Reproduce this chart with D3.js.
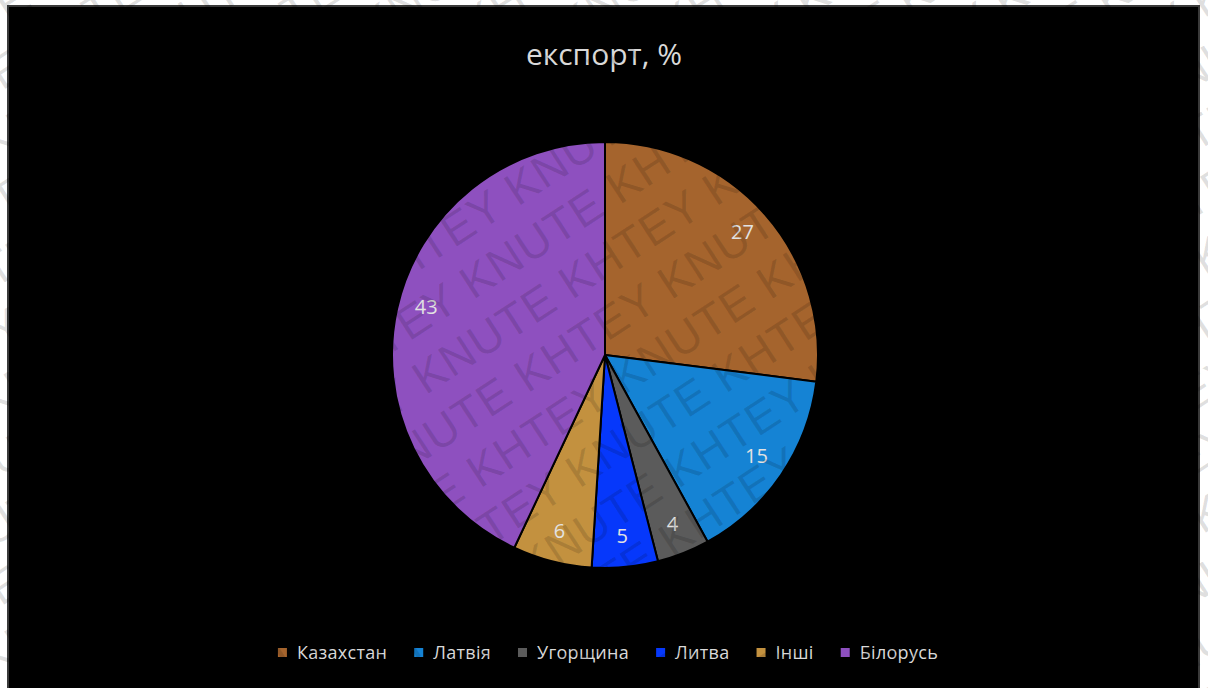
<!DOCTYPE html>
<html lang="uk">
<head>
<meta charset="utf-8">
<script src="https://cdn.jsdelivr.net/npm/d3@7"></script>
<style>
  html, body { margin: 0; padding: 0; background: #ffffff; }
  svg { display: block; }
</style>
</head>
<body>
<svg id="chart" width="1208" height="688"></svg>
<script>
// Export structure by country, %
const countries = ["Казахстан", "Латвія", "Угорщина", "Литва", "Інші", "Білорусь"];
const shares = [27, 15, 4, 5, 6, 43];
const sliceColors = ["#a5642d", "#1583d4", "#5b5b5b", "#0638fb", "#c3913f", "#8e50bf"];
const titleText = "експорт, %";
const watermarkWords = ["KNUTE", "KHTEY"];

const W = 1208, H = 688;
const svg = d3.select("#chart");

// dark chart area with a thin grey frame
svg.append("rect")
  .attr("x", 8).attr("y", 6).attr("width", 1191).attr("height", 690)
  .attr("fill", "#000").attr("stroke", "#3a3a3a").attr("stroke-width", 2);

// title
svg.append("text")
  .attr("x", 604).attr("y", 65)
  .attr("text-anchor", "middle")
  .attr("font-family", "'Open Sans', sans-serif")
  .attr("font-size", 30)
  .attr("fill", "#d9d9d9")
  .text(titleText);

// pie
const cx = 605, cy = 355, R = 213;
const data = countries.map((c, i) => ({ name: c, value: shares[i], color: sliceColors[i] }));
const pie = d3.pie().value(d => d.value).sort(null);
const arcs = pie(data);
const arc = d3.arc().innerRadius(0).outerRadius(R);
const labelArc = d3.arc().innerRadius(R * 0.86).outerRadius(R * 0.86);

const g = svg.append("g").attr("transform", `translate(${cx},${cy})`);
g.selectAll("path.slice")
  .data(arcs)
  .join("path")
  .attr("class", "slice")
  .attr("d", arc)
  .attr("fill", d => d.data.color)
  .attr("stroke", "#000")
  .attr("stroke-width", 2)
  .attr("stroke-linejoin", "round");

g.selectAll("text.val")
  .data(arcs)
  .join("text")
  .attr("class", "val")
  .attr("transform", d => {
    const [x, y] = labelArc.centroid(d);
    // the largest slice's label sits a little higher in its wedge
    return `translate(${x},${d.index === arcs.length - 1 ? y - 9 : y - 2})`;
  })
  .attr("text-anchor", "middle")
  .attr("dominant-baseline", "central")
  .attr("font-family", "'Open Sans', sans-serif")
  .attr("font-size", 20)
  .attr("fill", "#e2e2e2")
  .text(d => d.data.value);

// legend, laid out left to right and centred
const legend = svg.append("g").attr("font-family", "'Open Sans', sans-serif").attr("font-size", 18);
const items = legend.selectAll("g.item").data(data).join("g").attr("class", "item");
items.append("rect")
  .attr("width", 9).attr("height", 9)
  .attr("y", -4)
  .attr("fill", d => d.color);
items.append("text")
  .attr("x", 19)
  .attr("dominant-baseline", "central")
  .attr("letter-spacing", 0.3)
  .attr("fill", "#d9d9d9")
  .text(d => d.name);
let widths = [];
items.each(function() { widths.push(this.getBBox().width); });
const gap = 27;
const total = d3.sum(widths) + gap * (widths.length - 1);
let x0 = 608 - total / 2;
items.attr("transform", (d, i) => {
  const t = `translate(${x0},652)`;
  x0 += widths[i] + gap;
  return t;
});

// diagonal watermark over the whole page
const wm = svg.append("g")
  .attr("font-family", "'Liberation Sans', Arial, sans-serif")
  .attr("font-size", 46)
  .attr("fill", "#000")
  .attr("fill-opacity", 0.13)
  .attr("transform", `rotate(-33 ${W / 2} ${H / 2})`);
const rowStep = 54;
const rows = d3.range(-12, 14);
rows.forEach(r => {
  const words = d3.range(0, 18).map(k => watermarkWords[(k + r) % 2 === 0 ? 0 : 1]).join(" ");
  wm.append("text")
    .attr("x", -700 + ((r * 83) % 300))
    .attr("y", H / 2 + r * rowStep)
    .attr("letter-spacing", 1)
    .text(words);
});
</script>
</body>
</html>
